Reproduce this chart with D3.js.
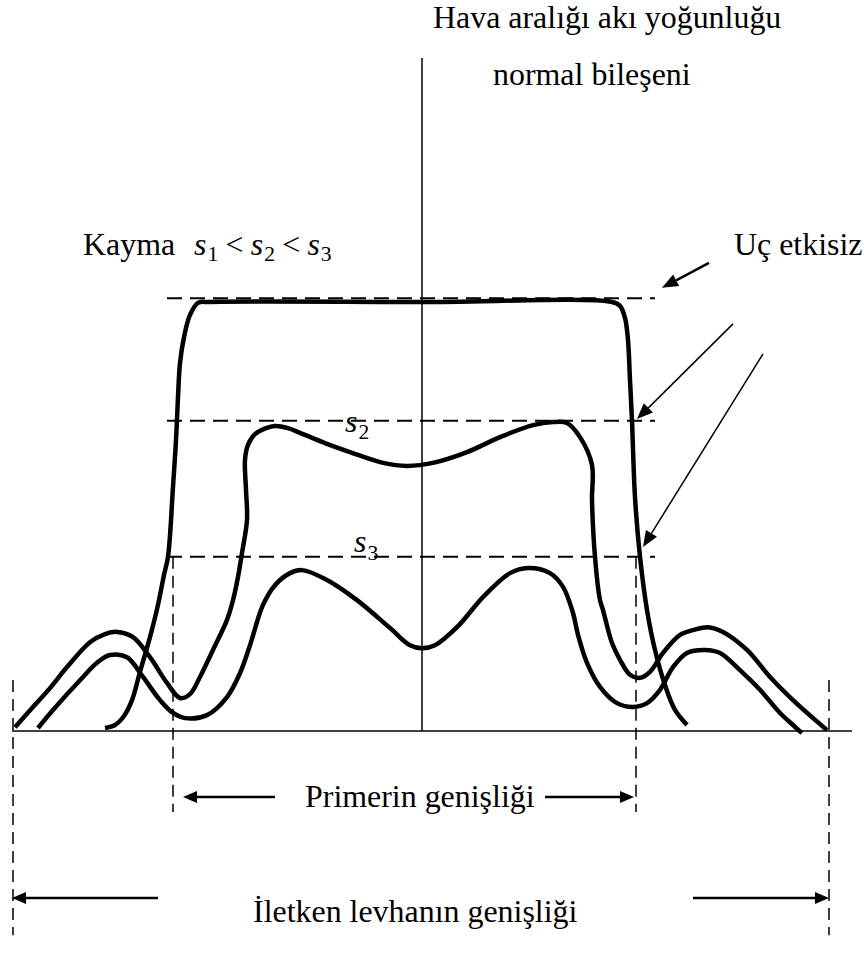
<!DOCTYPE html>
<html>
<head>
<meta charset="utf-8">
<script src="https://cdn.jsdelivr.net/npm/d3@7"></script>
<style>
  html, body { margin: 0; padding: 0; background: #fff; }
  svg { display: block; }
  text { font-family: "Liberation Serif", "Times New Roman", serif; fill: #000; }
</style>
</head>
<body>
<svg id="chart" width="864" height="958"></svg>
<script>
// Air-gap flux density (normal component) across the conducting plate,
// for three slip values s1 < s2 < s3. x: position across the plate, y: flux density (%).

const curveS1 = [
  [-79, 0.7], [-76.5, 1.4], [-74.25, 3.5], [-72.25, 7.2], [-70.25, 13.8], [-67.75, 21.9],
  [-65.75, 29.4], [-64.25, 36.4], [-63.25, 40.6], [-62, 56.9], [-61.25, 67.8], [-60.75, 77.9],
  [-60.25, 85.8], [-59.25, 91.8], [-57.75, 97.0], [-55.75, 99.8], [-52.75, 100], [0, 100],
  [47.75, 100], [49.75, 99.1], [51, 96.3], [51.75, 91.1], [52.25, 81.8], [52.75, 72.3],
  [53.5, 54.5], [54.75, 40.6], [56.5, 28.2], [58.5, 18.9], [61, 10.7], [63.5, 4.9], [66.5, 1.4]
];

const curveS2 = [
  [-101.5, 0.9], [-97, 5.6], [-92.75, 10.0], [-88.5, 14.9], [-82.75, 20.7], [-79, 22.6],
  [-76, 23.1], [-72, 21.9], [-67.75, 17.2], [-63.5, 11.2], [-60.25, 7.7], [-57.75, 8.6],
  [-55.25, 12.6], [-52, 18.9], [-48.5, 25.9], [-47, 30.5], [-45.75, 35.9], [-44.75, 41.5],
  [-43.5, 49.2], [-43.75, 56.2], [-44, 63.2], [-43.25, 66.7], [-41.5, 69.2], [-38.75, 70.6],
  [-36.5, 71.1], [-33.25, 70.6], [-30.25, 69.5], [-24, 67.1], [-17.75, 65.0], [-9.5, 62.5],
  [-3.5, 61.8], [3, 62.5], [11.5, 65.0], [19.75, 68.5], [28, 71.3], [33, 72.0], [36.5, 71.8],
  [39.75, 68.5], [42.75, 62.0], [42.75, 53.8], [43.5, 40.6], [44.75, 30.5], [45.5, 28.2],
  [47.75, 20.5], [49.75, 16.6], [52.25, 13.1], [54.75, 12.4], [57.25, 13.8], [60.5, 18.2],
  [64.75, 22.4], [68, 23.5], [71.75, 24.2], [75.5, 23.1], [81.5, 18.9], [87.25, 12.6],
  [93, 7.2], [101.5, 0.2]
];

const curveS3 = [
  [-95.75, 0.7], [-92, 4.9], [-84.5, 12.6], [-81, 15.9], [-77.75, 17.7], [-73.5, 17.2],
  [-69.5, 12.6], [-65.25, 7.2], [-62, 4.2], [-59, 3.0], [-53.5, 3.7], [-48.5, 7.9],
  [-45.25, 13.5], [-42.75, 20.0], [-39.5, 29.4], [-36.5, 34.0], [-32.75, 36.8], [-29.75, 37.5],
  [-23.5, 35.2], [-16, 30.5], [-7.75, 24.0], [-2.75, 20.0], [0.25, 19.3], [3.5, 20.0],
  [9, 24.2], [15.5, 31.2], [22.25, 36.8], [26.75, 38.0], [32.25, 36.8], [35.5, 33.6],
  [38, 27.5], [39.25, 22.4], [41.5, 15.9], [44.75, 10.3], [49, 6.5], [53, 5.6], [56.5, 6.5],
  [59.75, 9.6], [63, 14.9], [66.5, 18.2], [71, 18.9], [74.75, 18.2], [79.75, 14.2],
  [84.75, 9.6], [89.75, 4.2], [93, 1.4], [95.25, -0.5]
];

// end-effect-free flux levels for each slip
const levelNames = ["s1", "s2", "s3"];
const levelValues = [100.9, 72.3, 40.6];
const levelSpan = [-63.5, 58.5];

// primary and plate edges
const primaryEdges = [-62, 53.75];
const primaryMarkerSpan = [40.6, -18.9];
const plateEdges = [-102, 102];
const plateMarkerSpan = [11.9, -47.6];

// width dimension arrows: [tail, tip] along x
const primaryArrowY = -15.4;
const primaryArrows = [[-36.5, -59.5], [31, 53.25]];
const plateArrowY = -38.9;
const plateArrows = [[-65.75, -102.25], [68, 102]];

// pointers from the "Uç etkisiz" note to the level lines
const pointerFrom = [[72, 109.1], [78, 94.9], [85.5, 87.9]];
const pointerTo = [[60.25, 103.3], [54, 72.7], [55.5, 42.9]];

// axis extents
const axisXSpan = [-102.25, 107.75];
const axisYSpan = [0, 156.9];

const svg = d3.select("#chart");
const x = d3.scaleLinear().domain([-102, 102]).range([13, 829]);
const y = d3.scaleLinear().domain([0, 100]).range([731, 302]);

// axes
svg.append("line")
  .attr("x1", x(axisXSpan[0])).attr("x2", x(axisXSpan[1]))
  .attr("y1", y(0)).attr("y2", y(0))
  .attr("stroke", "#000").attr("stroke-width", 1.5);
svg.append("line")
  .attr("x1", x(0.25)).attr("x2", x(0.25))
  .attr("y1", y(axisYSpan[0])).attr("y2", y(axisYSpan[1]))
  .attr("stroke", "#000").attr("stroke-width", 1.5);

// dashed level lines
svg.selectAll("line.level").data(levelValues).join("line")
  .attr("class", "level")
  .attr("x1", x(levelSpan[0])).attr("x2", x(levelSpan[1]))
  .attr("y1", d => y(d)).attr("y2", d => y(d))
  .attr("stroke", "#000").attr("stroke-width", 2)
  .attr("stroke-dasharray", "15,8");

// dashed vertical edge markers
function edgeLines(edges, span) {
  svg.selectAll(null).data(edges).join("line")
    .attr("x1", d => x(d)).attr("x2", d => x(d))
    .attr("y1", y(span[0])).attr("y2", y(span[1]))
    .attr("stroke", "#000").attr("stroke-width", 1.5)
    .attr("stroke-dasharray", "12,7");
}
edgeLines(primaryEdges, primaryMarkerSpan);
edgeLines(plateEdges, plateMarkerSpan);

// flux density curves
const line = d3.line()
  .x(d => x(d[0])).y(d => y(d[1]))
  .curve(d3.curveCatmullRom.alpha(0.5));
svg.selectAll("path.flux").data([curveS1, curveS2, curveS3]).join("path")
  .attr("class", "flux")
  .attr("d", line)
  .attr("fill", "none").attr("stroke", "#000")
  .attr("stroke-width", 4.5).attr("stroke-linejoin", "round");

// arrow helper (screen coordinates derived from scales)
function arrow(x1, y1, x2, y2, width, headLen, headHalf) {
  const dx = x2 - x1, dy = y2 - y1;
  const len = Math.hypot(dx, dy);
  const ux = dx / len, uy = dy / len;
  const bx = x2 - ux * headLen, by = y2 - uy * headLen;
  svg.append("line")
    .attr("x1", x1).attr("y1", y1).attr("x2", bx).attr("y2", by)
    .attr("stroke", "#000").attr("stroke-width", width);
  svg.append("path")
    .attr("d", `M${x2},${y2}L${bx - uy * headHalf},${by + ux * headHalf}L${bx + uy * headHalf},${by - ux * headHalf}Z`)
    .attr("fill", "#000");
}
primaryArrows.forEach(a => arrow(x(a[0]), y(primaryArrowY), x(a[1]), y(primaryArrowY), 2.5, 14, 6));
plateArrows.forEach(a => arrow(x(a[0]), y(plateArrowY), x(a[1]), y(plateArrowY), 2.5, 14, 6));
pointerFrom.forEach((f, i) => {
  const t = pointerTo[i];
  arrow(x(f[0]), y(f[1]), x(t[0]), y(t[1]), i === 0 ? 2.5 : 1.5, 16, 6.5);
});

// text
const FS = 31, SX = 1.03;
function label(px, py, parts) {
  const t = svg.append("text")
    .attr("transform", `translate(${px},${py}) scale(${SX},1)`)
    .attr("font-size", FS);
  parts.forEach(p => {
    const ts = t.append("tspan").text(p.t);
    if (p.it) ts.attr("font-style", "italic");
    if (p.sub) ts.attr("font-size", 21);
    if (p.dy) ts.attr("dy", p.dy);
    if (p.dx) ts.attr("dx", p.dx);
  });
  return t;
}
label(433, 28, [{ t: "Hava aralığı akı yoğunluğu" }]);
label(493, 85, [{ t: "normal bileşeni" }]);
label(83, 255, [{ t: "Kayma" }]);
label(194, 255, [
  { t: "s", it: true }, { t: "1", sub: true, dy: 6, dx: 1 },
  { t: "<", dy: -6, dx: 7 },
  { t: "s", it: true, dx: 7 }, { t: "2", sub: true, dy: 6, dx: 1 },
  { t: "<", dy: -6, dx: 7 },
  { t: "s", it: true, dx: 7 }, { t: "3", sub: true, dy: 6, dx: 1 }
]);
label(734, 255, [{ t: "Uç etkisiz" }]);
label(x(-19), y(levelValues[1]) + 11, [{ t: "s", it: true }, { t: "2", sub: true, dy: 7, dx: 1 }]);
label(x(-16.75), y(levelValues[2]) - 5, [{ t: "s", it: true }, { t: "3", sub: true, dy: 8, dx: 1 }]);
label(305, y(primaryArrowY) + 10, [{ t: "Primerin genişliği" }]);
label(253, y(plateArrowY) + 24, [{ t: "İletken levhanın genişliği" }]);
</script>
</body>
</html>
